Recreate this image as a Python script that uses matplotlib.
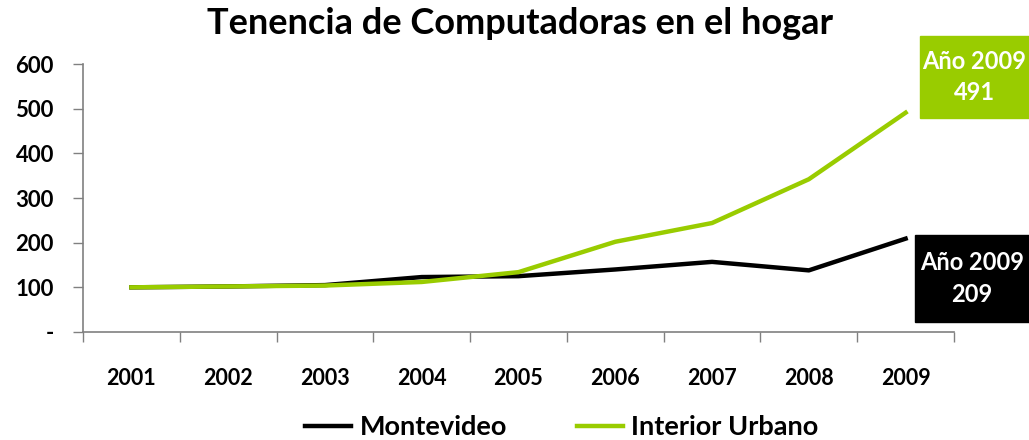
import matplotlib
matplotlib.use("Agg")
import matplotlib.pyplot as plt
from matplotlib.patches import Rectangle

years = ["2001", "2002", "2003", "2004", "2005", "2006", "2007", "2008", "2009"]
montevideo = [100, 102, 105, 123, 125, 140, 157, 138, 209]
interior = [100, 102, 104, 112, 134, 202, 244, 342, 491]
yticks = [0, 100, 200, 300, 400, 500, 600]
ytick_labels = ["-", "100", "200", "300", "400", "500", "600"]

GREEN = "#99CC00"
plt.rcParams["font.family"] = ["Lato", "DejaVu Sans"]
plt.rcParams["font.weight"] = "bold"

W, H = 1029, 440
fig = plt.figure(figsize=(W / 100, H / 100), dpi=100)
ax = fig.add_axes([83 / W, 1 - 332 / H, (954 - 83) / W, (332 - 64) / H])

x = list(range(len(years)))
ax.plot(x, montevideo, color="black", lw=3.2, label="Montevideo", solid_joinstyle="round")
ax.plot(x, interior, color=GREEN, lw=3.2, label="Interior Urbano", solid_joinstyle="round")

ax.set_xlim(-0.5, len(years) - 0.5)
ax.set_ylim(0, 600)
ax.set_yticks(yticks)
ax.set_yticklabels(ytick_labels, fontsize=16, fontweight="bold")
ax.tick_params(axis="y", direction="out", length=7, width=1, color="#808080", pad=14)

ax.set_xticks([i - 0.5 for i in range(len(years) + 1)])
ax.set_xticklabels([])
ax.set_xticks(x, minor=True)
ax.set_xticklabels(years, minor=True, fontsize=15.5, fontweight="bold")
ax.tick_params(axis="x", which="major", direction="out", length=7, width=1, color="#808080")
ax.tick_params(axis="x", which="minor", length=0, pad=26)

for s in ["top", "right"]:
    ax.spines[s].set_visible(False)
for s in ["left", "bottom"]:
    ax.spines[s].set_color("#808080")
    ax.spines[s].set_linewidth(1.2)

fig.text(520 / W, 1 - 24 / H, "Tenencia de Computadoras en el hogar", ha="center", va="center",
         fontsize=26, fontweight="bold")

leg = fig.legend(loc="center", bbox_to_anchor=(562 / W, 1 - 427 / H), ncol=2, frameon=False,
                 handlelength=1.7, columnspacing=2.6, handletextpad=0.3,
                 borderpad=0.1, prop={"weight": "bold", "size": 19.5})

# annotation boxes
def box(x0, y0, x1, y1, color, text):
    fig.patches.append(Rectangle((x0 / W, 1 - y1 / H), (x1 - x0) / W, (y1 - y0) / H,
                                 transform=fig.transFigure, color=color, zorder=5))
    fig.text((x0 + x1) / 2 / W, 1 - (y0 + y1) / 2 / H, text, ha="center", va="center",
             color="white", fontsize=17, fontweight="bold", linespacing=1.45, zorder=6)

box(920, 36, 1029, 118, GREEN, f"Año {years[-1]}\n{interior[-1]}")
box(915, 235, 1029, 322, "black", f"Año {years[-1]}\n{montevideo[-1]}")

fig.savefig("out.png", dpi=100)
